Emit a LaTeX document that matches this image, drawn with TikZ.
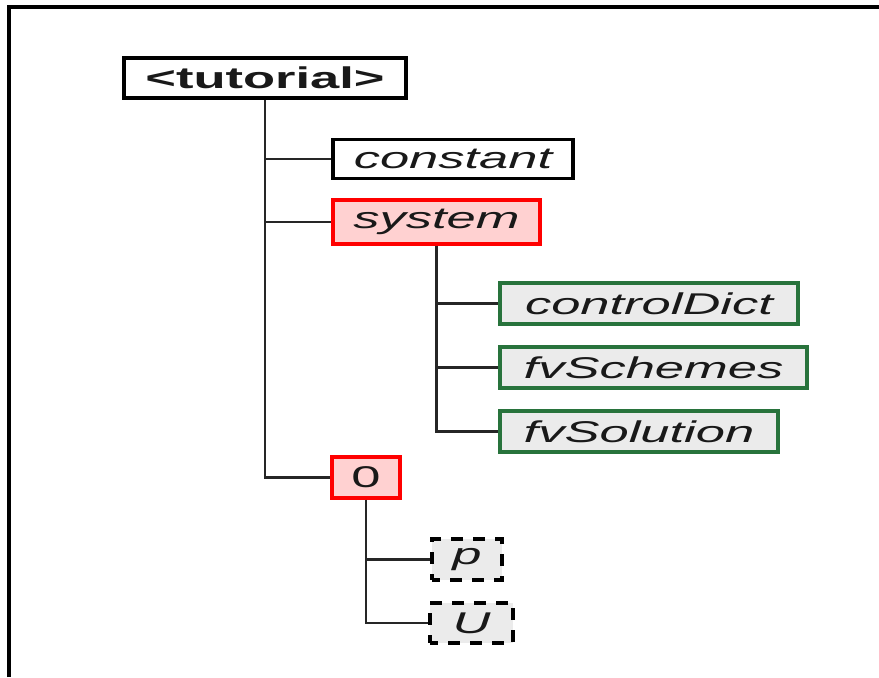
\documentclass[tikz,border=0pt]{standalone}
\usepackage{fontspec}
\newfontfamily\widesans[FakeStretch=1.75]{Liberation Sans}
\definecolor{filegreen}{RGB}{40,115,60}
\begin{document}
\begin{tikzpicture}[x=0.5pt,y=-0.5pt,
  every node/.style={font=\widesans\fontsize{15}{18}\selectfont\itshape, inner sep=0pt, text=black!90},
  box/.style={draw=black, line width=1.8pt, fill=white},
  dirbox/.style={draw=red, line width=1.8pt, fill=red!18},
  filebox/.style={draw=filegreen, line width=1.8pt, fill=black!8},
  fieldbox/.style={draw=black, line width=1.8pt, fill=black!8, dash pattern=on 6pt off 5pt, dash phase=2pt},
  link/.style={draw=black!85, line width=1.2pt}]
\useasboundingbox (0,0) rectangle (879,677);
% frame edges
\draw[line width=1.6pt] (9,677) -- (9,7) -- (879,7);

% tree nodes
\node[box, line width=2.2pt, font=\widesans\fontsize{15}{18}\selectfont\bfseries, minimum width=141pt, minimum height=20pt] (tut) at (265,78) {<tutorial>};
\node[box, minimum width=120pt, minimum height=19.5pt] (const) at (453,159) {constant};
\node[dirbox, minimum width=103.5pt, minimum height=22pt] (sys) at (436.5,222) {system};
\node[filebox, minimum width=149pt, minimum height=20.5pt] (ctrl) at (649,303.5) {controlDict};
\node[filebox, minimum width=153.5pt, minimum height=20.5pt] (sch) at (653.5,367.5) {fvSchemes};
\node[filebox, minimum width=139pt, minimum height=20.5pt] (sol) at (639,431.5) {fvSolution};
\node[dirbox, font=\widesans\fontsize{15}{18}\selectfont, minimum width=34pt, minimum height=20.5pt] (zero) at (366,477.5) {0};
\node[fieldbox, minimum width=35pt, minimum height=20.5pt] (p) at (467,559.5) {p};
\node[fieldbox, minimum width=41.5pt, minimum height=20pt] (u) at (471.5,623) {U};

% connectors
\draw[link] (tut.south) |- (const.west);
\draw[link] (tut.south) |- (sys.west);
\draw[link] (tut.south) |- (zero.west);
\draw[link] (sys.south) |- (ctrl.west);
\draw[link] (sys.south) |- (sch.west);
\draw[link] (sys.south) |- (sol.west);
\draw[link] (zero.south) |- (p.west);
\draw[link] (zero.south) |- (u.west);
\end{tikzpicture}
\end{document}
